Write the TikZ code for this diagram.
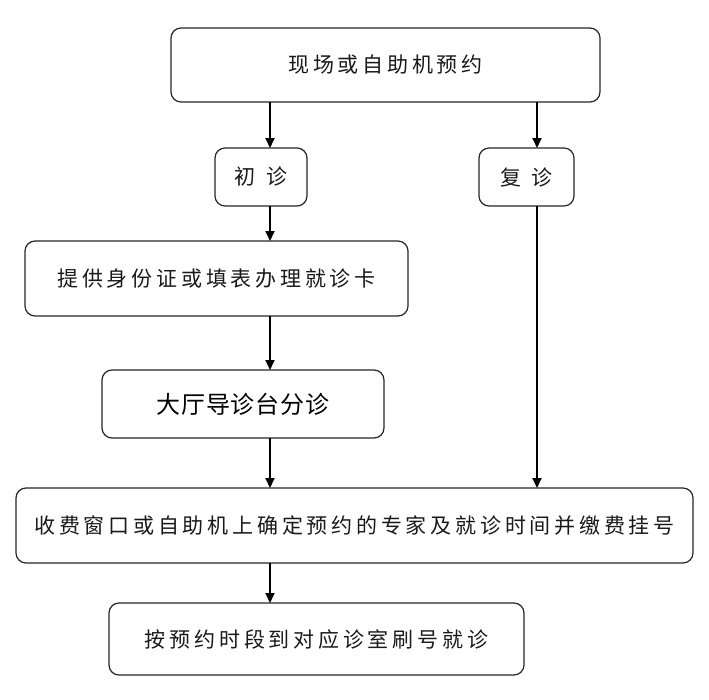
\documentclass[tikz,border=0pt]{standalone}
\usepackage{fontspec}
\usepackage{tikz}
\usetikzlibrary{arrows.meta}
\newfontfamily\cjk[LetterSpace=18]{Noto Sans CJK SC}
\newfontfamily\cjkhall[LetterSpace=4]{Noto Sans CJK SC}

\begin{document}
\begin{tikzpicture}[x=1pt, y=-1pt,
	flow box/.style={draw=black!85, line width=1.2pt, rounded corners=10pt, inner sep=0pt, outer sep=0pt, font=\cjk\fontsize{21}{21}\selectfont, text=black!90},
	flow arrow/.style={line width=1.8pt, -{Triangle[length=10pt, width=9pt]}}]

			\useasboundingbox (0,0) rectangle (709,699);

			\node[flow box, minimum width=429, minimum height=74] (1) at (385.5,65) {现场或自助机预约};
			\node[flow box, minimum width=92, minimum height=58] (2) at (261,177) {初\enspace 诊};
			\node[flow box, minimum width=95, minimum height=58] (3) at (526.5,177) {复\enspace 诊};

			\node[flow box, minimum width=383, minimum height=75] (4) at (216.5,278.5) {提供身份证或填表办理就诊卡};
			\node[flow box, minimum width=282, minimum height=68, font=\cjkhall\fontsize{24}{24}\selectfont, text=black] (5) at (243,404) {大厅导诊台分诊};

			\node[flow box, minimum width=677, minimum height=75] (6) at (354.5,525.5) {收费窗口或自助机上确定预约的专家及就诊时间并缴费挂号};
			\node[flow box, minimum width=415, minimum height=72] (7) at (316.5,639) {按预约时段到对应诊室刷号就诊};

			% the two columns of arrows
			\coordinate (left) at (270,0);
			\coordinate (right) at (537,0);

			% draw first visit path
			\draw[flow arrow] (1.south -| left) -- (2.north -| left);
			\draw[flow arrow] (2.south -| left) -- (4.north -| left);
			\draw[flow arrow] (4.south -| left) -- (5.north -| left);
			\draw[flow arrow] (5.south -| left) -- (6.north -| left);

			% draw return visit path
			\draw[flow arrow] (1.south -| right) -- (3.north -| right);
			\draw[flow arrow] (3.south -| right) -- (6.north -| right);

			% draw last step
			\draw[flow arrow] (6.south -| left) -- (7.north -| left);

		\end{tikzpicture}
\end{document}
